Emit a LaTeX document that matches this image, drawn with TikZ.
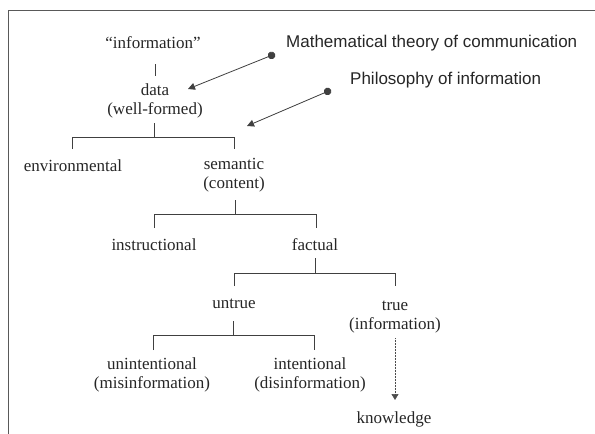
\documentclass[tikz,border=0pt]{standalone}
\usepackage{fontspec}
\setmainfont{Liberation Serif}
\setsansfont{Liberation Sans}
\usetikzlibrary{arrows.meta}
\begin{document}
\begin{tikzpicture}[x=1pt,y=-1pt,
  lbl/.style={inner sep=0pt,align=center,font=\fontsize{17}{18.5}\selectfont,text=black!85},
  sans/.style={inner sep=0pt,anchor=west,font=\sffamily\fontsize{17}{19}\selectfont,text=black!85},
  tree/.style={draw=black!75,line width=0.8pt},
  ptr/.style={draw=black!75,line width=0.8pt,{Circle[length=7.5pt]}-{Triangle[length=7pt,width=7pt]}},
  dotarrow/.style={draw=black!70,line width=0.6pt,dash pattern=on 0.6pt off 0.9pt,-{Triangle[length=6pt,width=7pt]}}]
\useasboundingbox (0,0) rectangle (595,434);
\draw[draw=black!65,line width=0.9pt] (8.5,434) -- (8.5,10.5) -- (595,10.5);

% text nodes
\node[lbl] (info) at (153,43) {``information''};
\node[sans] (math) at (286,43) {Mathematical theory of communication};
\node[sans] (phil) at (350,80) {Philosophy of information};
\node[lbl] (data) at (155,101) {data\\(well-formed)};
\node[lbl] (env) at (73,166) {environmental};
\node[lbl] (sem) at (234,175) {semantic\\(content)};
\node[lbl] (instr) at (154,245) {instructional};
\node[lbl] (fact) at (315,245) {factual};
\node[lbl] (untrue) at (234,304) {untrue};
\node[lbl] (true) at (395,317) {true\\(information)};
\node[lbl] (unint) at (152,375) {unintentional\\(misinformation)};
\node[lbl] (int) at (310,375) {intentional\\(disinformation)};
\node[lbl] (know) at (394,419) {knowledge};

% connector end points
\coordinate (i1) at (155,64);
\coordinate (i2) at (155,76);
\coordinate (d1) at (154,123);
\coordinate (d2) at (154,137);
\coordinate (e1) at (72,149);
\coordinate (s1) at (234,149);
\coordinate (s2) at (235,200);
\coordinate (s3) at (235,214);
\coordinate (n1) at (154,228);
\coordinate (f1) at (316,228);
\coordinate (f2) at (315,258);
\coordinate (f3) at (315,273);
\coordinate (u1) at (234,286);
\coordinate (t1) at (395,286);
\coordinate (u2) at (233,321);
\coordinate (u3) at (233,335);
\coordinate (m1) at (153,350);
\coordinate (m2) at (314,350);
\coordinate (t2) at (395,338);
\coordinate (k1) at (395,400);
\coordinate (md) at (275,54);
\coordinate (mt) at (188,89);
\coordinate (pd) at (331,90);
\coordinate (pt) at (247,126);

% tree connectors
\draw[tree] (i1) -- (i2);
\draw[tree] (d1) -- (d2);
\draw[tree] (e1) -- (e1|-d2) -- (s1|-d2) -- (s1);
\draw[tree] (s2) -- (s3);
\draw[tree] (n1) -- (n1|-s3) -- (f1|-s3) -- (f1);
\draw[tree] (f2) -- (f3);
\draw[tree] (u1) -- (u1|-f3) -- (t1|-f3) -- (t1);
\draw[tree] (u2) -- (u3);
\draw[tree] (m1) -- (m1|-u3) -- (m2|-u3) -- (m2);
\draw[dotarrow] (t2) -- (k1);

% pointers
\draw[ptr] (md) -- (mt);
\draw[ptr] (pd) -- (pt);
\end{tikzpicture}
\end{document}
